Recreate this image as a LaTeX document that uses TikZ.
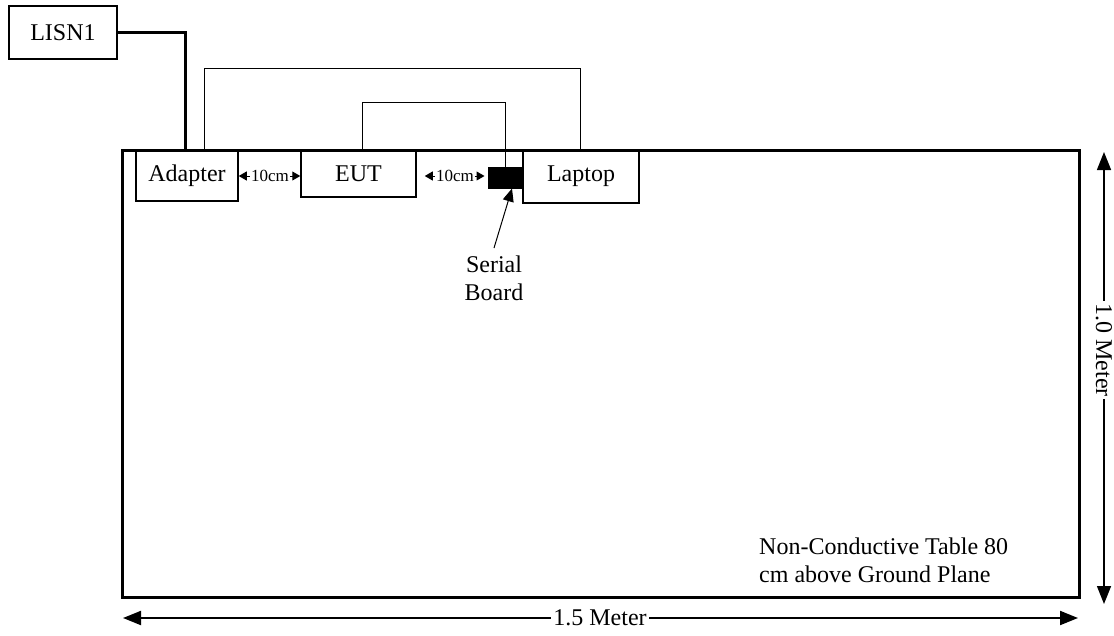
\documentclass[tikz,border=0pt]{standalone}
\usepackage{fontspec}
\setmainfont{Liberation Serif}
\usetikzlibrary{arrows.meta}

\begin{document}
\begin{tikzpicture}[x=1pt,y=-1pt,
    box/.style={draw,line width=1.5pt,inner sep=0pt,font=\fontsize{24}{28}\selectfont},
    cable/.style={line width=1pt},
    gap/.style={inner sep=1pt,font=\fontsize{17}{20}\selectfont},
    tip/.style={-{Triangle[length=8pt,width=9pt]},line width=1pt},
    dimline/.style={{Triangle[length=18pt,width=14pt]}-{Triangle[length=18pt,width=14pt]},line width=1.5pt},
    lbl/.style={inner sep=0pt,font=\fontsize{24}{28}\selectfont}]
  \useasboundingbox (0,0) rectangle (1114,635);
  % table
  \draw[line width=3pt] (122,150) rectangle (1079,597);
  \node[lbl,anchor=north west,align=left] (tbl) at (759,538) {Non-Conductive Table 80\\cm above Ground Plane};
  % units
  \node[box,minimum width=108pt,minimum height=53pt] (lisn) at (63,32.5) {LISN1};
  \node[box,minimum width=102pt,minimum height=51pt] (adp) at (187,175.5) {Adapter};
  \node[box,minimum width=115pt,minimum height=47pt] (eut) at (358.5,173.5) {EUT};
  \node[box,minimum width=116pt,minimum height=53pt] (lap) at (581,176.5) {Laptop};
  \node[draw,fill=black,line width=1pt,inner sep=0pt,minimum width=34pt,minimum height=21pt] (sb) at (505,177.5) {};
  % cables
  \draw[line width=3pt] (lisn.east) -| ([xshift=50pt]adp.north west);
  \draw[cable] ([xshift=69pt]adp.north west) -- ++(0,-81) -| ([xshift=58pt]lap.north west);
  \draw[cable] ([xshift=62pt]eut.north west) -- ++(0,-47) -| (sb.north);
  % 10cm spacing
  \node[gap] (d1) at (270,176) {10cm};
  \draw[tip] (d1.west) -- (adp.east |- d1);
  \draw[tip] (d1.east) -- (eut.west |- d1);
  \node[gap] (d2) at (455,176) {10cm};
  \draw[tip] (d2.west) -- ([xshift=8pt]eut.east |- d2);
  \draw[tip] (d2.east) -- ([xshift=-3pt]sb.west |- d2);
  % serial board label
  \node[lbl,anchor=north,align=center] (sbl) at (494,256) {Serial\\Board};
  \draw[-{Triangle[length=13pt,width=11pt]},line width=1pt] ([yshift=8pt]sbl.north) -- ([xshift=7pt]sb.south);
  % dimensions
  \coordinate (h1) at (123,618);
  \coordinate (h2) at (1078,618);
  \draw[dimline,line width=2pt] (h1) -- (h2);
  \node[lbl,fill=white,inner xsep=2pt] (hl) at (600,618) {1.5 Meter};
  \coordinate (v1) at (1104,152);
  \coordinate (v2) at (1104,604);
  \draw[dimline] (v1) -- (v2);
  \node[lbl,fill=white,inner xsep=2pt,rotate=-90] (vl) at (1104,350) {1.0 Meter};
\end{tikzpicture}
\end{document}
